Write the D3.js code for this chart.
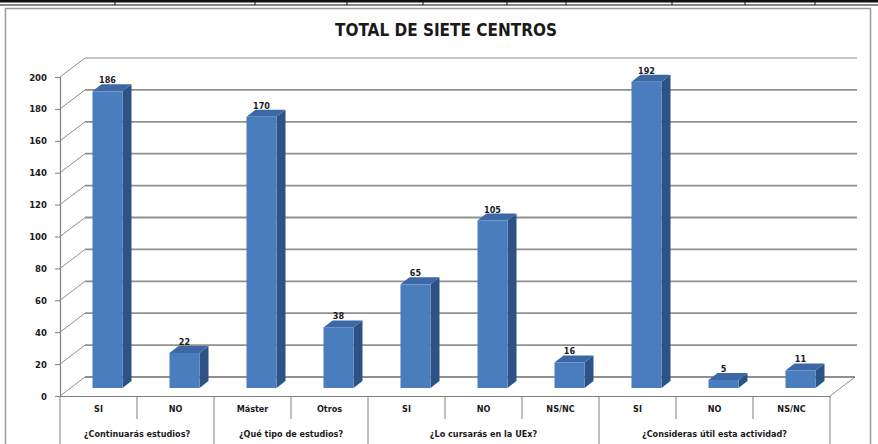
<!DOCTYPE html>
<html>
<head>
<meta charset="utf-8">
<script src="https://cdn.jsdelivr.net/npm/d3@7"></script>
<style>
  body { margin: 0; background: #fff; }
  svg { display: block; }
  text { font-family: "Liberation Sans Narrow", "DejaVu Sans Condensed", "Arial Narrow", sans-serif; fill: #1a1a1a; }
</style>
</head>
<body>
<svg id="chart" width="878" height="444"></svg>
<script>
// data
const categories = ["SI", "NO", "Máster", "Otros", "SI", "NO", "NS/NC", "SI", "NO", "NS/NC"];
const values = [186, 22, 170, 38, 65, 105, 16, 192, 5, 11];
const groupNames = ["¿Continuarás estudios?", "¿Qué tipo de estudios?", "¿Lo cursarás en la UEx?", "¿Consideras útil esta actividad?"];
const groupSizes = [2, 2, 3, 3];
const yTicks = [0, 20, 40, 60, 80, 100, 120, 140, 160, 180, 200];
const chartTitle = "TOTAL DE SIETE CENTROS";

const svg = d3.select("#chart");
const W = 878, H = 444;

// depth of the 3d floor
const depthX = 25, depthY = -19;
const barOffX = 9, barOffY = -8;   // bar front plane
const barDepX = 9, barDepY = -7;    // bar thickness
const barW = 30;

const x = d3.scaleBand().domain(d3.range(categories.length)).range([60, 830]).padding(0);
const y = d3.scaleLinear().domain([0, 200]).range([396, 77]);

// table remnant on top
svg.append("rect").attr("x", 0).attr("y", 0).attr("width", W).attr("height", 2.5).attr("fill", "#111");
svg.append("line").attr("x1", 0).attr("x2", W).attr("y1", 5).attr("y2", 5).attr("stroke", "#111").attr("stroke-width", 1.2);
[115, 255, 347, 423, 507, 566, 672, 745, 815].forEach(function (d) {
    svg.append("line").attr("x1", d).attr("x2", d).attr("y1", 2).attr("y2", 5).attr("stroke", "#111");
});

// outer frame
svg.append("rect")
    .attr("x", 5.5).attr("y", 8.5).attr("width", 865).attr("height", 445)
    .attr("fill", "none").attr("stroke", "#9a9a9a").attr("stroke-width", 1.5);

svg.append("text")
    .attr("x", 446).attr("y", 36)
    .attr("text-anchor", "middle")
    .style("font-size", "17px").style("font-weight", "bold")
    .text(chartTitle);

// back wall gridlines + side wall
const grid = svg.append("g");
grid.selectAll("line.back").data(yTicks).enter().append("line")
    .attr("class", "back")
    .attr("x1", 60 + depthX).attr("x2", function (d) { return d === 0 ? 830 + depthX : 857; })
    .attr("y1", function (d) { return y(d) + depthY; })
    .attr("y2", function (d) { return y(d) + depthY; })
    .attr("stroke", function (d) { return d === 200 ? "#c4c4c4" : "#909090"; })
    .attr("stroke-width", 1.8);
grid.selectAll("line.side").data(yTicks).enter().append("line")
    .attr("class", "side")
    .attr("x1", 60).attr("x2", 60 + depthX)
    .attr("y1", function (d) { return y(d); })
    .attr("y2", function (d) { return y(d) + depthY; })
    .attr("stroke", "#8e8e8e").attr("stroke-width", 1);
// floor right edge
grid.append("line")
    .attr("x1", 830).attr("x2", 830 + depthX)
    .attr("y1", y(0)).attr("y2", y(0) + depthY)
    .attr("stroke", "#8e8e8e").attr("stroke-width", 1);

// bars
const bars = svg.append("g").selectAll("g").data(values).enter().append("g");
function fx(i) { return x(i) + x.bandwidth() / 2 + barOffX - barW / 2; }
bars.append("path")   // side
    .attr("fill", "#2d5386")
    .attr("d", function (d, i) {
        const x0 = fx(i) + barW, yt = y(d) + barOffY, yb = y(0) + barOffY;
        return "M" + x0 + "," + yt + "L" + (x0 + barDepX) + "," + (yt + barDepY) +
            "L" + (x0 + barDepX) + "," + (yb + barDepY) + "L" + x0 + "," + yb + "Z";
    });
bars.append("path")   // top
    .attr("fill", "#3c69a6")
    .attr("d", function (d, i) {
        const x0 = fx(i), yt = y(d) + barOffY;
        return "M" + x0 + "," + yt + "L" + (x0 + barDepX) + "," + (yt + barDepY) +
            "L" + (x0 + barW + barDepX) + "," + (yt + barDepY) + "L" + (x0 + barW) + "," + yt + "Z";
    });
bars.append("rect")   // front
    .attr("x", function (d, i) { return fx(i); })
    .attr("y", function (d) { return y(d) + barOffY; })
    .attr("width", barW)
    .attr("height", function (d) { return y(0) - y(d); })
    .attr("fill", "#4a7dbd");
bars.append("text")
    .attr("x", function (d, i) { return fx(i) + barW / 2; })
    .attr("y", function (d) { return y(d) + barOffY + barDepY - 1; })
    .attr("text-anchor", "middle")
    .style("font-size", "9px").style("font-weight", "bold")
    .text(function (d) { return d; });

// y axis
const yAxis = svg.append("g")
    .attr("transform", "translate(60,0)")
    .call(d3.axisLeft(y).tickValues(yTicks).tickSize(5).tickPadding(8));
yAxis.select(".domain").attr("stroke", "#808080").attr("stroke-width", 1.2);
yAxis.selectAll(".tick line").attr("stroke", "#808080");
yAxis.selectAll(".tick text")
    .style("font-size", "9.5px").style("font-weight", "bold").attr("fill", "#1a1a1a")
    .style("font-family", "'Liberation Sans Narrow', 'DejaVu Sans Condensed', sans-serif");

// x axis with categories
const xAxis = svg.append("g")
    .attr("transform", "translate(0," + y(0) + ")")
    .call(d3.axisBottom(x).tickSize(0).tickPadding(10).tickFormat(function (i) { return categories[i]; }));
xAxis.select(".domain").attr("stroke", "#808080").attr("stroke-width", 1.2);
xAxis.selectAll(".tick text")
    .style("font-size", "9px").style("font-weight", "bold").attr("fill", "#1a1a1a")
    .style("font-family", "'Liberation Sans Narrow', 'DejaVu Sans Condensed', sans-serif");

// dividers and group labels
const groupStarts = [];
let acc = 0;
groupSizes.forEach(function (n) { groupStarts.push(acc); acc += n; });
const bounds = d3.range(categories.length + 1).map(function (i) {
    return i < categories.length ? x(i) : x.range()[1];
});
bounds.forEach(function (bx, i) {
    const isGroup = groupStarts.indexOf(i) >= 0 || i === categories.length;
    svg.append("line")
        .attr("x1", bx).attr("x2", bx)
        .attr("y1", y(0)).attr("y2", isGroup ? H : y(0) + 23)
        .attr("stroke", "#808080").attr("stroke-width", 1);
});
svg.append("g").selectAll("text").data(groupNames).enter().append("text")
    .attr("x", function (d, i) {
        const a = bounds[groupStarts[i]], b = bounds[groupStarts[i] + groupSizes[i]];
        return (a + b) / 2;
    })
    .attr("y", 437)
    .attr("text-anchor", "middle")
    .style("font-size", "9px").style("font-weight", "bold")
    .text(function (d) { return d; });
</script>
</body>
</html>
